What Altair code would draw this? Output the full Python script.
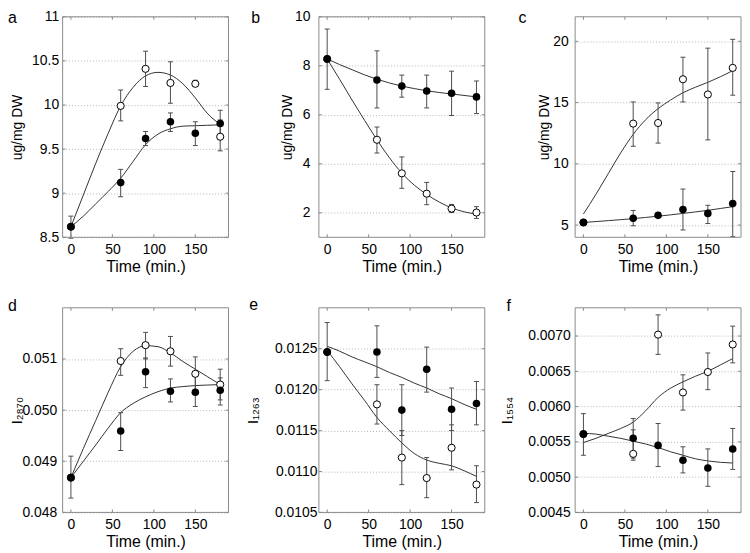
import altair as alt
import pandas as pd

FONT = "Liberation Sans"
TIME = [0, 60, 90, 120, 150, 180]
CURVE_T = [0, 15, 30, 45, 60, 75, 90, 105, 120, 135, 150, 165, 180]
X_TICKS = [0, 50, 100, 150]

# ---- panel a ----
a_fill = [8.62, 9.12, 9.62, 9.81, 9.68, 9.79]
a_fill_lo = [8.49, 8.96, 9.54, 9.70, 9.54, 9.64]
a_fill_hi = [8.74, 9.27, 9.70, 9.91, 9.81, 9.94]
a_open = [8.62, 9.99, 10.41, 10.25, 10.24, 9.64]
a_open_lo = [8.62, 9.82, 10.21, 10.02, 10.21, 9.48]
a_open_hi = [8.62, 10.17, 10.61, 10.49, 10.28, 9.83]
a_curve_fill = [8.62, 8.74, 8.88, 9.02, 9.17, 9.36, 9.55, 9.67, 9.73, 9.76, 9.765, 9.77, 9.775]
a_curve_open = [8.62, 8.98, 9.34, 9.68, 9.99, 10.20, 10.33, 10.37, 10.34, 10.24, 10.08, 9.90, 9.78]

# ---- panel b ----
b_fill = [8.28, 7.42, 7.17, 6.97, 6.88, 6.73]
b_fill_lo = [7.04, 6.28, 6.72, 6.28, 5.97, 6.05]
b_fill_hi = [9.50, 8.61, 7.62, 7.62, 7.78, 7.38]
b_open = [8.28, 4.98, 3.61, 2.78, 2.17, 2.01]
b_open_lo = [8.28, 4.44, 3.00, 2.33, 2.01, 1.77]
b_open_hi = [8.28, 5.50, 4.28, 3.24, 2.34, 2.25]
b_curve_fill = [8.28, 8.05, 7.84, 7.63, 7.45, 7.30, 7.17, 7.07, 6.98, 6.91, 6.85, 6.79, 6.73]
b_curve_open = [8.28, 7.45, 6.60, 5.78, 4.98, 4.25, 3.62, 3.13, 2.75, 2.44, 2.20, 2.04, 1.95]

# ---- panel c ----
c_fill = [5.21, 5.56, 5.79, 6.27, 5.95, 6.75]
c_fill_lo = [5.10, 4.94, 5.70, 4.60, 5.13, 4.05]
c_fill_hi = [5.30, 6.19, 5.90, 7.94, 6.61, 9.37]
c_open = [5.21, 13.28, 13.33, 16.90, 15.66, 17.83]
c_open_lo = [5.21, 11.43, 11.69, 15.05, 11.95, 15.60]
c_open_hi = [5.21, 15.05, 14.97, 18.70, 19.44, 20.16]
c_curve_fill = [5.21, 5.28, 5.36, 5.44, 5.52, 5.62, 5.72, 5.83, 5.95, 6.07, 6.20, 6.35, 6.50]
c_curve_open = [5.90, 7.50, 9.20, 10.90, 12.40, 13.60, 14.50, 15.20, 15.80, 16.25, 16.65, 17.10, 17.60]

# ---- panel d ----
d_fill = [0.04868, 0.04959, 0.05075, 0.05037, 0.05035, 0.05039]
d_fill_lo = [0.04828, 0.04921, 0.05044, 0.05016, 0.05007, 0.05010]
d_fill_hi = [0.04910, 0.04995, 0.05102, 0.05061, 0.05066, 0.05063]
d_open = [0.04868, 0.05096, 0.05127, 0.05115, 0.05071, 0.05050]
d_open_lo = [0.04868, 0.05068, 0.05100, 0.05086, 0.05037, 0.05020]
d_open_hi = [0.04868, 0.05120, 0.05152, 0.05144, 0.05104, 0.05080]
d_curve_fill = [0.04868, 0.04900, 0.04932, 0.04965, 0.04995, 0.05013, 0.05026, 0.05036, 0.05043, 0.05046, 0.05048, 0.05049, 0.05050]
d_curve_open = [0.04868, 0.04925, 0.04980, 0.05035, 0.05085, 0.05115, 0.05126, 0.05124, 0.05112, 0.05095, 0.05080, 0.05065, 0.05050]

# ---- panel e ----
e_fill = [0.01246, 0.01246, 0.01175, 0.01225, 0.01176, 0.01183]
e_fill_lo = [0.01211, 0.01215, 0.01144, 0.01197, 0.01150, 0.01157]
e_fill_hi = [0.01282, 0.01278, 0.01206, 0.01252, 0.01202, 0.01210]
e_open = [0.01246, 0.01182, 0.01117, 0.01092, 0.01129, 0.01084]
e_open_lo = [0.01246, 0.01158, 0.01084, 0.01068, 0.01102, 0.01062]
e_open_hi = [0.01246, 0.01206, 0.01150, 0.01117, 0.01157, 0.01107]
e_curve_fill = [0.01253, 0.01247, 0.01240, 0.01234, 0.01228, 0.01221, 0.01215, 0.01208, 0.01202, 0.01195, 0.01189, 0.01182, 0.01176]
e_curve_open = [0.01248, 0.01228, 0.01207, 0.01187, 0.01166, 0.01150, 0.01135, 0.01122, 0.01114, 0.01110, 0.01107, 0.01101, 0.01094]

# ---- panel f ----
f_fill = [0.00561, 0.00555, 0.00545, 0.00524, 0.00513, 0.00540]
f_fill_lo = [0.00531, 0.00527, 0.00515, 0.00506, 0.00487, 0.00511]
f_fill_hi = [0.00590, 0.00583, 0.00576, 0.00543, 0.00540, 0.00569]
f_open = [0.00561, 0.00533, 0.00702, 0.00620, 0.00649, 0.00688]
f_open_lo = [0.00561, 0.00524, 0.00674, 0.00595, 0.00624, 0.00662]
f_open_hi = [0.00561, 0.00567, 0.00730, 0.00645, 0.00676, 0.00714]
f_curve_fill = [0.00562, 0.00561, 0.00558, 0.00555, 0.00551, 0.00547, 0.00542, 0.00536, 0.00531, 0.00526, 0.00523, 0.00521, 0.00520]
f_curve_open = [0.00549, 0.00555, 0.00562, 0.00569, 0.00578, 0.00594, 0.00613, 0.00626, 0.00635, 0.00643, 0.00650, 0.00659, 0.00668]

TOP_H = 222
BOT_H = 206

PANELS = [
    dict(letter="a", ytitle="ug/mg DW", tfs=14, dom=[8.5, 11], ticks=[8.5, 9, 9.5, 10, 10.5, 11], fmt=".4~g",
         h=TOP_H, lp=4, ext=34, tp=4, ldx=-55, ldy=6,
         fill=a_fill, fill_lo=a_fill_lo, fill_hi=a_fill_hi, opn=a_open, opn_lo=a_open_lo, opn_hi=a_open_hi,
         cfill=a_curve_fill, copen=a_curve_open),
    dict(letter="b", ytitle="ug/mg DW", tfs=14, dom=[1, 10], ticks=[2, 4, 6, 8, 10], fmt=".4~g",
         h=TOP_H, lp=9, ext=21, tp=4, ldx=-68, ldy=6,
         fill=b_fill, fill_lo=b_fill_lo, fill_hi=b_fill_hi, opn=b_open, opn_lo=b_open_lo, opn_hi=b_open_hi,
         cfill=b_curve_fill, copen=b_curve_open),
    dict(letter="c", ytitle="ug/mg DW", tfs=14, dom=[4, 22], ticks=[5, 10, 15, 20], fmt=".4~g",
         h=TOP_H, lp=7, ext=20, tp=4, ldx=-57, ldy=6,
         fill=c_fill, fill_lo=c_fill_lo, fill_hi=c_fill_hi, opn=c_open, opn_lo=c_open_lo, opn_hi=c_open_hi,
         cfill=c_curve_fill, copen=c_curve_open),
    dict(letter="d", ytitle="I₂₈₇₀", tfs=15, dom=[0.048, 0.052], ticks=[0.048, 0.049, 0.050, 0.051], fmt=".3f",
         h=BOT_H, lp=6, ext=36, tp=2, ldx=-55, ldy=3,
         fill=d_fill, fill_lo=d_fill_lo, fill_hi=d_fill_hi, opn=d_open, opn_lo=d_open_lo, opn_hi=d_open_hi,
         cfill=d_curve_fill, copen=d_curve_open),
    dict(letter="e", ytitle="I₁₂₆₃", tfs=15, dom=[0.0105, 0.013], ticks=[0.0105, 0.011, 0.0115, 0.012, 0.0125], fmt=".4f",
         h=BOT_H, lp=2, ext=55, tp=4, ldx=-70, ldy=2,
         fill=e_fill, fill_lo=e_fill_lo, fill_hi=e_fill_hi, opn=e_open, opn_lo=e_open_lo, opn_hi=e_open_hi,
         cfill=e_curve_fill, copen=e_curve_open),
    dict(letter="f", ytitle="I₁₅₅₄", tfs=15, dom=[0.0045, 0.0074], ticks=[0.0045, 0.005, 0.0055, 0.006, 0.0065, 0.007], fmt=".4f",
         h=BOT_H, lp=5, ext=57, tp=4, ldx=-69, ldy=3,
         fill=f_fill, fill_lo=f_fill_lo, fill_hi=f_fill_hi, opn=f_open, opn_lo=f_open_lo, opn_hi=f_open_hi,
         cfill=f_curve_fill, copen=f_curve_open),
]

W = 167
FRAME = "#8a8a8a"
BAR = "#4d4d4d"
LINE = "#333333"


def make_panel(p):
    H = p["h"]
    xs = alt.Scale(domain=[-10, 190], nice=False, zero=False)
    ys = alt.Scale(domain=p["dom"], nice=False, zero=False)
    x_axis = alt.Axis(values=X_TICKS, title="Time (min.)", grid=False, ticks=False, domain=False,
                      labelPadding=5, titlePadding=2, labelFontSize=14, titleFontSize=16, format="d")
    y_axis = alt.Axis(values=p["ticks"], title=p["ytitle"], grid=True, gridDash=[1, 2], gridColor="#b5b5b5",
                      gridWidth=1, ticks=False, domain=False, labelPadding=p["lp"], minExtent=p["ext"],
                      maxExtent=p["ext"], titlePadding=p["tp"], format=p["fmt"], titleFontSize=p["tfs"],
                      labelFontSize=14)
    X = lambda f: alt.X(f, scale=xs, axis=x_axis)
    Y = lambda f: alt.Y(f, scale=ys, axis=y_axis)

    n = len(TIME)
    pts = pd.DataFrame({
        "t": TIME * 2,
        "v": p["opn"] + p["fill"],
        "lo": p["opn_lo"] + p["fill_lo"],
        "hi": p["opn_hi"] + p["fill_hi"],
        "s": ["open"] * n + ["fill"] * n,
    })
    curves = pd.DataFrame({
        "t": CURVE_T * 2,
        "v": p["copen"] + p["cfill"],
        "s": ["open"] * len(CURVE_T) + ["fill"] * len(CURVE_T),
    })
    one = pd.DataFrame({"k": [0]})

    curve = alt.Chart(curves).mark_line(color=LINE, strokeWidth=1, interpolate="monotone").encode(
        x=X("t:Q"), y=Y("v:Q"), detail="s:N")
    bars = alt.Chart(pts).mark_rule(color=BAR, strokeWidth=1).encode(x=X("t:Q"), y=Y("lo:Q"), y2="hi:Q")
    cap_lo = alt.Chart(pts).mark_tick(orient="horizontal", size=5, thickness=1, color=BAR, opacity=1).encode(
        x=X("t:Q"), y=Y("lo:Q"))
    cap_hi = alt.Chart(pts).mark_tick(orient="horizontal", size=5, thickness=1, color=BAR, opacity=1).encode(
        x=X("t:Q"), y=Y("hi:Q"))
    opn = alt.Chart(pts).transform_filter("datum.s == 'open'").mark_point(
        shape="circle", filled=True, fill="white", stroke="black", strokeWidth=1, size=52, opacity=1).encode(
        x=X("t:Q"), y=Y("v:Q"))
    fil = alt.Chart(pts).transform_filter("datum.s == 'fill'").mark_circle(
        color="black", size=58, opacity=1).encode(x=X("t:Q"), y=Y("v:Q"))

    xt = pd.DataFrame({"t": X_TICKS})
    yt = pd.DataFrame({"v": p["ticks"]})
    tb = alt.Chart(xt).mark_rule(color=FRAME, strokeWidth=1).encode(x=X("t:Q"), y=alt.value(H), y2=alt.value(H - 3))
    tt = alt.Chart(xt).mark_rule(color=FRAME, strokeWidth=1).encode(x=X("t:Q"), y=alt.value(0), y2=alt.value(3))
    tl = alt.Chart(yt).mark_rule(color=FRAME, strokeWidth=1).encode(y=Y("v:Q"), x=alt.value(0), x2=alt.value(3))
    tr = alt.Chart(yt).mark_rule(color=FRAME, strokeWidth=1).encode(y=Y("v:Q"), x=alt.value(W), x2=alt.value(W - 3))

    frame = alt.Chart(one).mark_rect(fillOpacity=0, stroke=FRAME, strokeWidth=1).encode(
        x=alt.value(0), x2=alt.value(W), y=alt.value(0), y2=alt.value(H))
    letter = alt.Chart(one).mark_text(align="left", baseline="alphabetic", fontSize=16, font=FONT,
                                      color="black").encode(
        x=alt.value(p["ldx"]), y=alt.value(p["ldy"]), text=alt.value(p["letter"]))

    return alt.layer(curve, bars, cap_lo, cap_hi, opn, fil, tb, tt, tl, tr, frame, letter).properties(
        width=W, height=H)


charts = [make_panel(p) for p in PANELS]

chart = alt.concat(*charts, columns=3, spacing={"row": 71, "column": 91}, bounds="flush").properties(
    padding=0
).configure_view(stroke=None).configure_axis(
    labelFont=FONT, titleFont=FONT, labelColor="black", titleColor="black", titleFontWeight="normal"
).configure_text(font=FONT)

chart.save("out.html", embed_options={"renderer": "svg", "actions": False})
